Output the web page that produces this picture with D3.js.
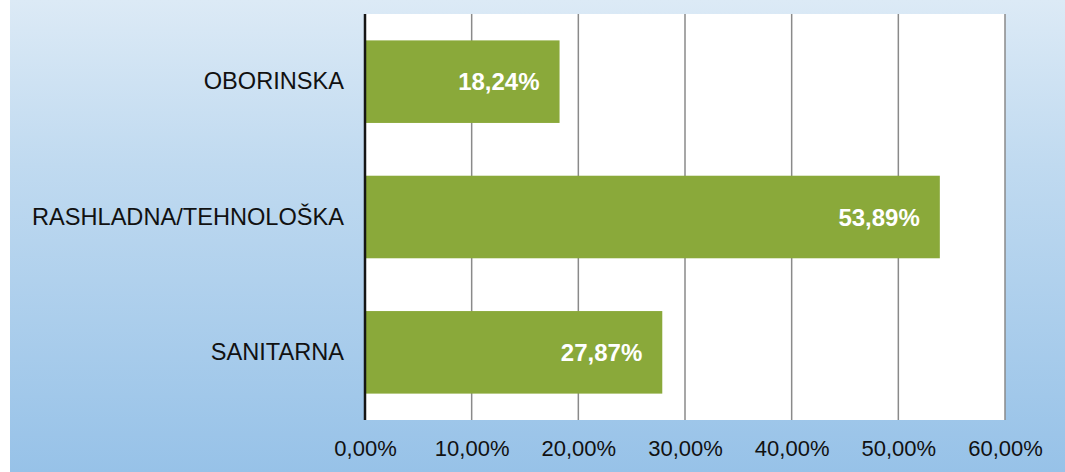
<!DOCTYPE html>
<html>
<head>
<meta charset="utf-8">
<script src="https://cdn.jsdelivr.net/npm/d3@7"></script>
<style>
  html, body { margin: 0; padding: 0; background: #fff; }
  svg { display: block; }
</style>
</head>
<body>
<div id="root"></div>
<script>
// chart data
const categories = ["OBORINSKA", "RASHLADNA/TEHNOLOŠKA", "SANITARNA"];
const values = [18.24, 53.89, 27.87];
const tickValues = [0, 10, 20, 30, 40, 50, 60];

const W = 1065, H = 472;
const margin = { top: 14, right: 60, bottom: 52, left: 365 };
const width = W - margin.left - margin.right,
      height = H - margin.top - margin.bottom;

const locale = d3.formatLocale({ decimal: ",", thousands: ".", grouping: [3], currency: ["", ""] });
const fmt = d => locale.format(".2f")(d) + "%";

const svg = d3.select("#root")
    .append("svg")
    .attr("width", W)
    .attr("height", H);

// background gradient
const defs = svg.append("defs");
const grad = defs.append("linearGradient")
    .attr("id", "bg")
    .attr("x1", 0).attr("y1", 0).attr("x2", 0).attr("y2", 1);
grad.append("stop").attr("offset", "0%").attr("stop-color", "#dceaf6");
grad.append("stop").attr("offset", "35%").attr("stop-color", "#c0daf0");
grad.append("stop").attr("offset", "100%").attr("stop-color", "#97c2e8");

svg.append("rect")
    .attr("x", 10).attr("y", 0)
    .attr("width", W - 10).attr("height", H)
    .attr("fill", "url(#bg)");

const g = svg.append("g")
    .attr("transform", "translate(" + margin.left + "," + margin.top + ")");

const x = d3.scaleLinear()
    .domain([0, 60])
    .range([0, width]);

const y = d3.scaleBand()
    .domain(categories)
    .range([0, height])
    .paddingInner(0.39)
    .paddingOuter(0.195);

// plot area
g.append("rect")
    .attr("x", 0).attr("y", 0)
    .attr("width", width).attr("height", height)
    .attr("fill", "#ffffff");

// gridlines
g.selectAll(".grid")
    .data(tickValues.filter(d => d > 0))
    .enter()
    .append("line")
    .attr("class", "grid")
    .attr("x1", d => x(d)).attr("x2", d => x(d))
    .attr("y1", 0).attr("y2", height)
    .attr("stroke", "#8a8a8a")
    .attr("stroke-width", 1.5);

// bars
g.selectAll(".bar")
    .data(values)
    .enter()
    .append("rect")
    .attr("class", "bar")
    .attr("x", 0)
    .attr("y", (d, i) => y(categories[i]))
    .attr("width", d => x(d))
    .attr("height", y.bandwidth())
    .attr("fill", "#8aa93a");

// value labels
g.selectAll(".val")
    .data(values)
    .enter()
    .append("text")
    .attr("class", "val")
    .attr("x", d => x(d) - 20)
    .attr("y", (d, i) => y(categories[i]) + y.bandwidth() / 2)
    .attr("dy", "0.36em")
    .attr("text-anchor", "end")
    .attr("fill", "#ffffff")
    .style("font-family", "'Liberation Sans', Arial, sans-serif")
    .style("font-weight", "bold")
    .style("font-size", "24px")
    .text(d => fmt(d));

// y axis (category labels)
const yAxis = g.append("g")
    .call(d3.axisLeft(y).tickSize(0).tickPadding(21));
yAxis.select(".domain").remove();
yAxis.selectAll("text")
    .attr("fill", "#111")
    .style("font-family", "'Liberation Sans', Arial, sans-serif")
    .style("font-size", "23.6px");

// vertical axis line
g.append("line")
    .attr("x1", 0).attr("x2", 0)
    .attr("y1", 0).attr("y2", height)
    .attr("stroke", "#151515")
    .attr("stroke-width", 2.5);

// x axis
const xAxis = g.append("g")
    .attr("transform", "translate(0," + height + ")")
    .call(d3.axisBottom(x).tickValues(tickValues).tickSize(0).tickPadding(20).tickFormat(d => fmt(d)));
xAxis.select(".domain").remove();
xAxis.selectAll("text")
    .attr("fill", "#111")
    .style("font-family", "'Liberation Sans', Arial, sans-serif")
    .style("font-size", "22px");
</script>
</body>
</html>
